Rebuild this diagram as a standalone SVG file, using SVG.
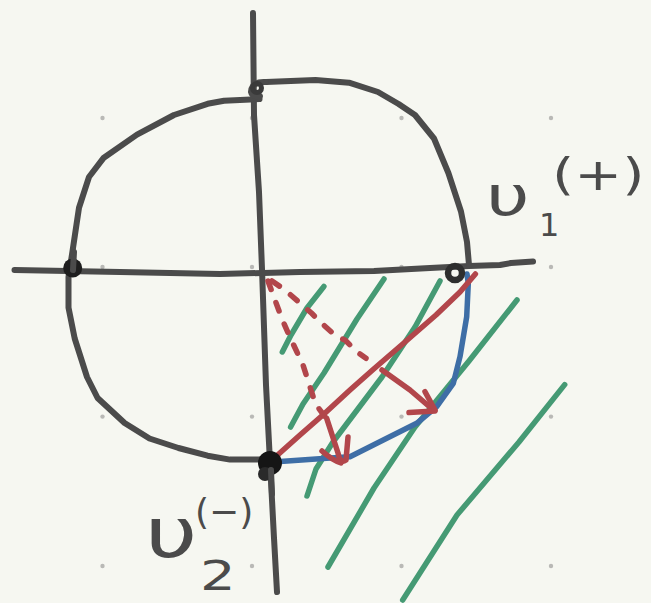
<svg xmlns="http://www.w3.org/2000/svg" width="651" height="603" viewBox="0 0 651 603">
<style>
.ink{fill:none;stroke:#4b4b4b;stroke-width:6;stroke-linecap:round;stroke-linejoin:round}
.red{fill:none;stroke:#b2464b;stroke-width:5.5;stroke-linecap:round;stroke-linejoin:round}
.dash{stroke-dasharray:9 14}
.grn{fill:none;stroke:#459a74;stroke-width:5.5;stroke-linecap:round;stroke-linejoin:round}
.blu{fill:none;stroke:#3e6ea6;stroke-width:5.5;stroke-linecap:round;stroke-linejoin:round}
.dot{fill:#b9b9b6}
.lbl{font-family:"DejaVu Sans",sans-serif;fill:#4b4b4b}
</style>
<rect width="651" height="603" fill="#f6f7f1"/>
<g id="grid">
<circle class="dot" cx="102.5" cy="118" r="2.2"/><circle class="dot" cx="252" cy="118" r="2.2"/><circle class="dot" cx="401.5" cy="118" r="2.2"/><circle class="dot" cx="551" cy="118" r="2.2"/>
<circle class="dot" cx="102.5" cy="267" r="2.2"/><circle class="dot" cx="252" cy="267" r="2.2"/><circle class="dot" cx="401.5" cy="267" r="2.2"/><circle class="dot" cx="551" cy="267" r="2.2"/>
<circle class="dot" cx="102.5" cy="416.6" r="2.2"/><circle class="dot" cx="252" cy="416.6" r="2.2"/><circle class="dot" cx="401.5" cy="416.6" r="2.2"/><circle class="dot" cx="551" cy="416.6" r="2.2"/>
<circle class="dot" cx="102.5" cy="566" r="2.2"/><circle class="dot" cx="252" cy="566" r="2.2"/><circle class="dot" cx="401.5" cy="566" r="2.2"/><circle class="dot" cx="551" cy="566" r="2.2"/>
</g>
<g id="shading">
<polyline class="grn" points="323.9,286.5 307,308 291,335 282.3,352"/>
<polyline class="grn" points="384,279 357,319 324,373 303,404 290.6,427"/>
<polyline class="grn" points="440,281 415,327 382,377 333,442 316,469 307,496"/>
<polyline class="grn" points="517,300 469,361 415,427 374,488 328,567"/>
<polyline class="grn" points="564.7,384.6 519,442 457,515 402.7,600"/>
</g>
<g id="connectors">
<polyline class="ink" points="253,13 254,115 259,192 262,269 266,385 270,462 274,538 277,592"/>
<polyline class="ink" points="14.5,270 120,272 220,274 300,272 374,271 430,268 469,266 500,265 511,263 533,261.5"/>
<path class="ink" d="M266,82 L315.5,80 L349,82.7 L378,92 L398.6,104 L415,115 L434,138.5 L448.4,173 L461,211.5 L467,242 L469,265"/>
<path class="ink" d="M259.5,99 L224,100.8 L207.6,103.8 L174,115 L137,134.6 L103.8,157.7 L89,177 L79,207.7 L72.7,250 L68.5,277 L68.5,307.7 L74.7,338.5 L87,377 L97.6,398 L124.6,423 L149.5,438.5 L178.5,448 L207.6,455.7 L230,459.6 L270,459.6"/>
<path class="ink" d="M266,82 Q252,81 251,92 Q252,97 260,96"/>
<polyline class="blu" points="273,462 326.7,458.3 350,456.7 383.3,440 416.7,423.3 436.7,406.7 453.3,383.3 460,356.7 466.7,316.7 468.3,283.3 467,274"/>
<polyline class="red" points="272,460 300,435 324,414 350,390 373.7,369 405,342 436,315 460,292 475.4,274"/>
<polyline class="red" points="382,370 410,390 433.3,410"/>
<polyline class="red" points="409,412.5 435,411"/>
<polyline class="red" points="425,391.7 435,410"/>
<polyline class="red dash" points="268,281 282,319 290.6,338.5 303,365 315.5,404 326,418"/>
<path class="red" d="M326.7,418.3 L338,453 Q340,464 346,460 L348,437"/>
<path class="red" d="M322,451 Q332,460 341,463"/>
<polyline class="red dash" points="272,281 285,290 311.7,313.3 320,321.7 336.7,336.7 345,340 356.7,351.7 366,358.3"/>
</g>
<g id="node-top"><circle cx="257" cy="88" r="4.5" fill="none" stroke="#3a3a3a" stroke-width="5"/></g>
<g id="node-left"><circle cx="72.7" cy="268" r="9.5" fill="#1e1e1e"/><line class="ink" x1="74" y1="252" x2="73" y2="270"/></g>
<g id="node-right"><circle cx="455" cy="273" r="7" fill="none" stroke="#2e2e2e" stroke-width="6.5"/></g>
<g id="node-bottom"><circle cx="270" cy="463" r="12" fill="#151515"/><circle cx="265" cy="474" r="7" fill="#2a2a2a"/><line class="ink" x1="271" y1="470" x2="272" y2="494"/></g>
<g id="label-v1">
<text class="lbl" font-size="56" transform="translate(486,215) scale(1.35,1)">υ</text>
<text class="lbl" x="539" y="236" font-size="32">1</text>
<text class="lbl" font-size="44" transform="translate(552,190) scale(1.3,1)">(+)</text>
</g>
<g id="label-v2">
<text class="lbl" font-size="70" transform="translate(145,557) scale(1.3,1)">υ</text>
<text class="lbl" font-size="36" transform="translate(195,524)">(−)</text>
<text class="lbl" font-size="40" transform="translate(200,590) scale(1.4,1)">2</text>
</g>
</svg>
